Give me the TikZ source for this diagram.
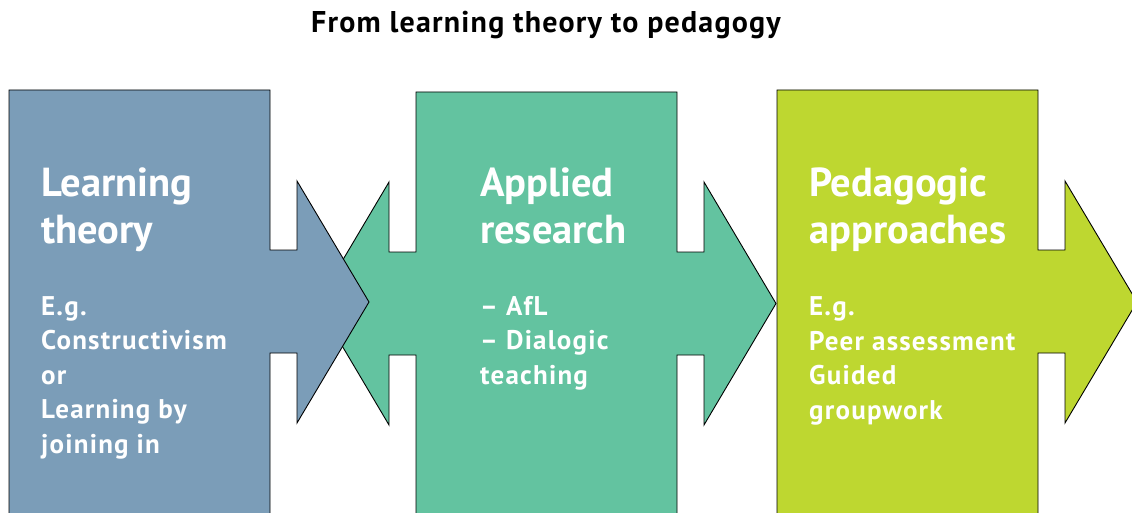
\documentclass[tikz,border=0pt]{standalone}
\usepackage{fontspec}
\setmainfont{PT Sans}
\definecolor{theoryblue}{RGB}{123,157,184}
\definecolor{researchgreen}{RGB}{99,195,160}
\definecolor{pedalime}{RGB}{190,215,48}
\tikzset{
  panel/.style={draw=black,line width=0.9pt,line join=miter},
  heading/.style={anchor=base west,align=left,text=white,inner sep=0pt,
    font=\bfseries\fontsize{40.5}{47}\selectfont},
  body/.style={anchor=base west,align=left,text=white,inner sep=0pt,
    font=\bfseries\fontsize{27}{34.5}\selectfont\addfontfeatures{LetterSpace=4.5}},
}
\begin{document}
\begin{tikzpicture}[x=1pt,y=-1pt]
    \useasboundingbox (0,0) rectangle (1132,513);
    \node[anchor=base,inner sep=0pt,font=\bfseries\fontsize{30}{32}\selectfont\addfontfeatures{LetterSpace=4}] (title) at (546,33) {From learning theory to pedagogy};
    % pedagogic approaches
    \draw[panel,fill=pedalime] (777,90) -- (1038,90) -- (1038,250) -- (1065,250) -- (1065,181)
      -- (1137,302) -- (1065,423) -- (1065,353) -- (1038,353) -- (1038,520) -- (777,520) -- cycle;
    % applied research
    \draw[panel,fill=researchgreen] (416,92) -- (677,92) -- (677,252) -- (704,252) -- (704,182)
      -- (776,303.5) -- (704,425) -- (704,355) -- (677,355) -- (677,520) -- (416,520)
      -- (416,355) -- (389,355) -- (389,425) -- (317,303.5) -- (389,182) -- (389,252) -- (416,252) -- cycle;
    % learning theory
    \draw[panel,fill=theoryblue] (9,90) -- (270,90) -- (270,250) -- (297,250) -- (297,181)
      -- (369,302) -- (297,423) -- (297,353) -- (270,353) -- (270,520) -- (9,520) -- cycle;
    % base anchor sits on the last line
    \node[heading] (theory head) at (41,243) {Learning\\theory};
    \node[body] (theory body) at (41,453) {E.g.\\Constructivism\\or\\Learning by\\joining in};
    \node[heading] (research head) at (480,243) {Applied\\research};
    \node[body] (research body) at (480,384) {– AfL\\– Dialogic\\teaching};
    \node[heading] (pedagogy head) at (809,243) {Pedagogic\\approaches};
    \node[body] (pedagogy body) at (809,419) {E.g.\\Peer assessment\\Guided\\groupwork};
\end{tikzpicture}
\end{document}
